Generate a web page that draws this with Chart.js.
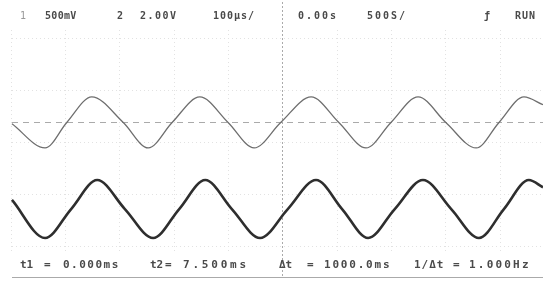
<!DOCTYPE html>
<html>
<head>
<meta charset="utf-8">
<script src="https://cdn.jsdelivr.net/npm/chart.js@4/dist/chart.umd.min.js"></script>
<style>
  html, body { margin: 0; padding: 0; background: #fff; }
  #wrap { position: relative; width: 543px; height: 281px; overflow: hidden; }
  #scope { position: absolute; left: 0; top: 0; }
  .lbl { position: absolute; font-family: "DejaVu Sans Mono", monospace; font-size: 10px;
         font-weight: bold; color: #4a4a4a; white-space: pre; line-height: 12px; filter: blur(0.35px); }
  .lt { color: #999; font-weight: normal; }
  .bt { font-size: 11px; top: 259px; }
  #base { position: absolute; left: 12px; right: 0; top: 277px; height: 1px; background: #aaa; }
</style>
</head>
<body>
<div id="wrap">
  <canvas id="scope" width="543" height="281"></canvas>
  <div class="lbl lt" style="left:20px;top:10px">1</div>
  <div class="lbl" style="left:45px;top:10px;letter-spacing:0.3px">500mV</div>
  <div class="lbl" style="left:117px;top:10px">2</div>
  <div class="lbl" style="left:140px;top:10px;letter-spacing:1.5px">2.00V</div>
  <div class="lbl" style="left:213px;top:10px;letter-spacing:1px">100µs/</div>
  <div class="lbl" style="left:298px;top:10px;letter-spacing:2px">0.00s</div>
  <div class="lbl" style="left:367px;top:10px;letter-spacing:2px">500S/</div>
  <div class="lbl" style="left:484px;top:10px">ƒ</div>
  <div class="lbl" style="left:515px;top:10px;letter-spacing:1px">RUN</div>

  <div class="lbl bt" style="left:20px">t1</div>
  <div class="lbl bt" style="left:44px">=</div>
  <div class="lbl bt" style="left:63px;letter-spacing:1.5px">0.000ms</div>
  <div class="lbl bt" style="left:150px">t2</div>
  <div class="lbl bt" style="left:165px">=</div>
  <div class="lbl bt" style="left:183px;letter-spacing:2.8px">7.500ms</div>
  <div class="lbl bt" style="left:279px">Δt</div>
  <div class="lbl bt" style="left:307px">=</div>
  <div class="lbl bt" style="left:324px;letter-spacing:1.8px">1000.0ms</div>
  <div class="lbl bt" style="left:414px;letter-spacing:1px">1/Δt</div>
  <div class="lbl bt" style="left:453px">=</div>
  <div class="lbl bt" style="left:469px;letter-spacing:2.2px">1.000Hz</div>
  <div id="base"></div>
</div>
<script>
// channel 1 (upper trace), time in µs, value in mV
const ch1Time = [-98, -37, 3, 49, 107, 153, 197, 248, 300, 348, 397, 453, 504, 554, 600, 650, 701, 757, 799, 845, 880];
const ch1Volt = [-18, -360, 0, 360, 0, -360, 0, 360, 0, -360, 0, 360, 0, -360, 0, 360, 0, -360, 0, 360, 250];

// channel 2 (lower trace), time in µs, value in V
const ch2Time = [-98, -37, 11, 59, 110, 162, 210, 258, 307, 359, 410, 462, 510, 558, 607, 659, 711, 762, 808, 854, 880];
const ch2Volt = [0.5, -1.6, 0, 1.6, 0, -1.6, 0, 1.6, 0, -1.6, 0, 1.6, 0, -1.6, 0, 1.6, 0, -1.6, 0, 1.6, 1.2];

// graticule
const gridTimes = [-100, 0, 100, 200, 300, 400, 500, 600, 700, 800];
const gridDivs = [-2, -1, 0, 1, 2];
const centerTime = 400;

const toPoints = (xs, ys) => xs.map((x, i) => ({ x: x, y: ys[i] }));

const graticule = {
  id: "graticule",
  beforeDatasetsDraw(chart) {
    const { ctx, chartArea: a, scales } = chart;
    ctx.save();
    ctx.lineWidth = 1;
    ctx.strokeStyle = "#e2e2e2";
    ctx.setLineDash([1, 3]);
    gridTimes.forEach(t => {
      const x = Math.round(scales.x.getPixelForValue(t)) + 0.5;
      ctx.beginPath(); ctx.moveTo(x, 30); ctx.lineTo(x, 252); ctx.stroke();
    });
    gridDivs.forEach(d => {
      const y = Math.round(scales.yg.getPixelForValue(d)) + 0.5;
      ctx.beginPath(); ctx.moveTo(a.left + 12, y); ctx.lineTo(a.right, y); ctx.stroke();
    });
    // centre line and channel 1 reference
    ctx.strokeStyle = "#aaa";
    ctx.setLineDash([2, 2]);
    const cx = Math.round(scales.x.getPixelForValue(centerTime)) + 0.5;
    ctx.beginPath(); ctx.moveTo(cx, 2); ctx.lineTo(cx, 278); ctx.stroke();
    ctx.setLineDash([6, 5]);
    const ry = Math.round(scales.y1.getPixelForValue(0)) + 0.5;
    ctx.beginPath(); ctx.moveTo(a.left + 12, ry); ctx.lineTo(a.right, ry); ctx.stroke();
    ctx.restore();
  }
};

new Chart(document.getElementById("scope"), {
  type: "line",
  data: {
    datasets: [
      {
        label: "CH1",
        data: toPoints(ch1Time, ch1Volt),
        yAxisID: "y1",
        borderColor: "#6e6e6e",
        borderWidth: 1.3,
        pointRadius: 0,
        cubicInterpolationMode: "monotone"
      },
      {
        label: "CH2",
        data: toPoints(ch2Time, ch2Volt),
        yAxisID: "y2",
        borderColor: "#2e2e2e",
        borderWidth: 2.6,
        pointRadius: 0,
        cubicInterpolationMode: "monotone"
      }
    ]
  },
  options: {
    responsive: false,
    animation: false,
    layout: { padding: 0 },
    plugins: { legend: { display: false }, tooltip: { enabled: false } },
    scales: {
      x: { type: "linear", min: -120, max: 880, display: false },
      y1: { type: "linear", min: -2238, max: 1729, display: false },
      y2: { type: "linear", min: -3.97, max: 11.53, display: false },
      yg: { type: "linear", min: -2.673, max: 2.73, display: false }
    }
  },
  plugins: [graticule]
});
</script>
</body>
</html>
